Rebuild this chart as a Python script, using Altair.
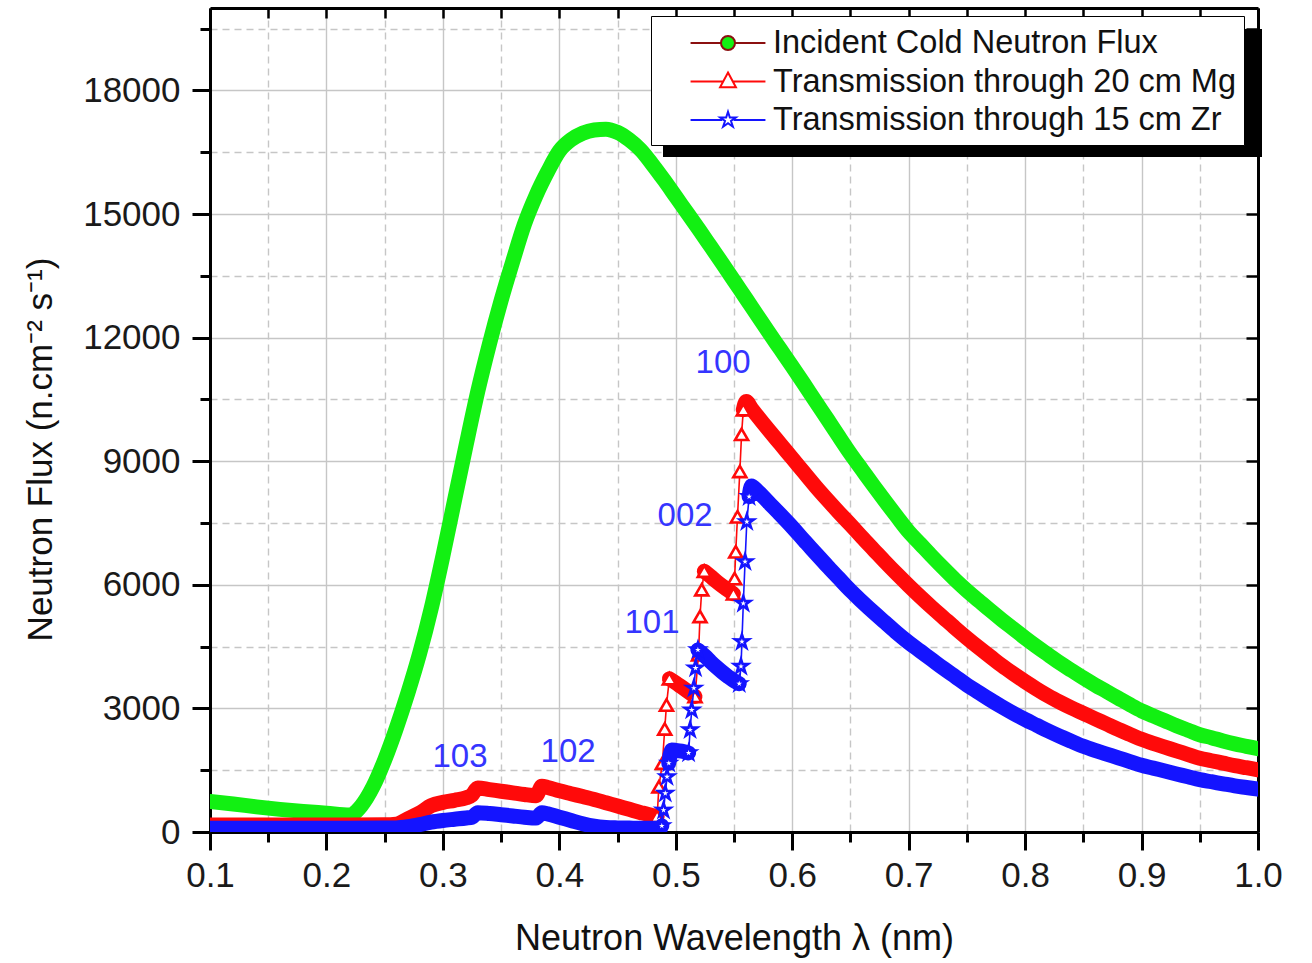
import altair as alt
import pandas as pd

FONT = "Liberation Sans"

# ---------------- data ----------------
green_x = [0.10, 0.12, 0.14, 0.16, 0.18, 0.20, 0.22, 0.23, 0.24, 0.25, 0.26, 0.27, 0.28, 0.29,
           0.30, 0.31, 0.32, 0.33, 0.34, 0.35, 0.36, 0.37, 0.38, 0.39, 0.40, 0.41, 0.42, 0.43,
           0.44, 0.45, 0.46, 0.47, 0.48, 0.49, 0.50, 0.51, 0.52, 0.53, 0.54, 0.55, 0.56, 0.57,
           0.58, 0.59, 0.60, 0.61, 0.62, 0.63, 0.64, 0.65, 0.66, 0.67, 0.68, 0.69, 0.70, 0.71,
           0.72, 0.73, 0.74, 0.75, 0.76, 0.77, 0.78, 0.79, 0.80, 0.81, 0.82, 0.83, 0.84, 0.85,
           0.86, 0.87, 0.88, 0.89, 0.90, 0.91, 0.92, 0.93, 0.94, 0.95, 0.96, 0.97, 0.98, 0.99, 1.00]
green_y = [740, 680, 610, 550, 500, 455, 410, 640, 1100, 1750, 2520, 3380, 4330, 5430,
           6700, 8050, 9400, 10700, 11850, 12900, 13850, 14750, 15450, 16030, 16530, 16800, 16960, 17040,
           17060, 16980, 16800, 16550, 16200, 15820, 15420, 15020, 14620, 14210, 13800, 13380, 12960, 12540,
           12120, 11710, 11300, 10880, 10450, 10030, 9600, 9180, 8790, 8400, 8020, 7650, 7290, 6990,
           6690, 6400, 6120, 5860, 5620, 5380, 5150, 4930, 4710, 4500, 4300, 4100, 3920, 3740,
           3570, 3410, 3250, 3090, 2940, 2820, 2700, 2580, 2470, 2360, 2290, 2210, 2140, 2080, 2020]

red_x = [0.10, 0.15, 0.20, 0.25, 0.26, 0.27, 0.28, 0.29, 0.30, 0.31, 0.32, 0.325, 0.33, 0.34,
         0.35, 0.36, 0.37, 0.38, 0.385, 0.39, 0.40, 0.41, 0.42, 0.43, 0.44, 0.45, 0.46, 0.47,
         0.48, 0.484, 0.4855, 0.4885, 0.4905, 0.492, 0.4945, 0.50, 0.505, 0.51, 0.5165, 0.5195,
         0.5208, 0.5223, 0.5245, 0.53, 0.535, 0.54, 0.545, 0.5495, 0.5505, 0.5515, 0.553, 0.555,
         0.5565, 0.558, 0.5605, 0.565, 0.57, 0.58, 0.59, 0.60, 0.61, 0.62, 0.63, 0.64, 0.65,
         0.66, 0.67, 0.68, 0.69, 0.70, 0.71, 0.72, 0.73, 0.74, 0.75, 0.76, 0.77, 0.78, 0.79,
         0.80, 0.81, 0.82, 0.83, 0.84, 0.85, 0.86, 0.87, 0.88, 0.89, 0.90, 0.91, 0.92, 0.93,
         0.94, 0.95, 0.96, 0.97, 0.98, 0.99, 1.00]
red_y = [170, 170, 170, 175, 190, 320, 460, 640, 720, 770, 830, 900, 1070, 1030,
         990, 950, 910, 880, 1110, 1080, 1000, 930, 860, 790, 710, 630, 550, 470,
         400, 380, 1100, 1670, 2500, 3080, 3720, 3620, 3520, 3420, 3290, 4300,
         5230, 5880, 6330, 6200, 6080, 5970, 5870, 5780, 6150, 6800, 7650, 8750,
         9650, 10250, 10450, 10280, 10100, 9750, 9410, 9070, 8730, 8390, 8070, 7760, 7460,
         7150, 6850, 6550, 6260, 5980, 5710, 5450, 5200, 4950, 4710, 4480, 4260, 4040, 3840,
         3650, 3470, 3300, 3150, 3010, 2880, 2750, 2620, 2490, 2370, 2250, 2150, 2060, 1970,
         1880, 1790, 1730, 1670, 1610, 1560, 1510]

blue_x = [0.10, 0.15, 0.20, 0.25, 0.26, 0.27, 0.28, 0.29, 0.30, 0.31, 0.32, 0.325, 0.33, 0.34,
          0.35, 0.36, 0.37, 0.38, 0.385, 0.39, 0.40, 0.41, 0.42, 0.43, 0.44, 0.45, 0.46, 0.47,
          0.48, 0.486, 0.488, 0.4895, 0.491, 0.4925, 0.494, 0.4965, 0.50, 0.505, 0.511, 0.5123,
          0.5137, 0.5155, 0.517, 0.519, 0.525, 0.53, 0.535, 0.54, 0.545, 0.5505, 0.5545, 0.556,
          0.5568, 0.558, 0.5595, 0.561, 0.563, 0.565, 0.57, 0.58, 0.59, 0.60, 0.61, 0.62, 0.63,
          0.64, 0.65, 0.66, 0.67, 0.68, 0.69, 0.70, 0.71, 0.72, 0.73, 0.74, 0.75, 0.76, 0.77,
          0.78, 0.79, 0.80, 0.81, 0.82, 0.83, 0.84, 0.85, 0.86, 0.87, 0.88, 0.89, 0.90, 0.91,
          0.92, 0.93, 0.94, 0.95, 0.96, 0.97, 0.98, 0.99, 1.00]
blue_y = [90, 90, 90, 95, 100, 130, 180, 240, 280, 310, 340, 360, 470, 450,
          420, 390, 360, 340, 470, 440, 360, 280, 200, 140, 110, 100, 95, 90,
          90, 100, 150, 530, 940, 1340, 1670, 1990, 1980, 1960, 1920, 2480,
          2960, 3490, 3980, 4420, 4270, 4130, 4000, 3880, 3770, 3660, 3600, 4020,
          4620, 5550, 6560, 7530, 8140, 8400, 8280, 7990, 7700, 7400, 7080, 6770, 6460,
          6160, 5860, 5590, 5330, 5080, 4830, 4600, 4390, 4180, 3970, 3770, 3570, 3390, 3210,
          3040, 2880, 2730, 2590, 2450, 2320, 2200, 2080, 1980, 1890, 1800, 1710, 1620, 1550,
          1480, 1410, 1340, 1270, 1220, 1170, 1120, 1080, 1040]

ann_text = ["103", "102", "101", "002", "100"]
ann_x = [0.3147, 0.4075, 0.4796, 0.508, 0.5406]
ann_y = [1820, 1940, 5080, 7680, 11390]

series_names = ["Incident Cold Neutron Flux",
                "Transmission through 20 cm Mg",
                "Transmission through 15 cm Zr"]

x_major = [0.1, 0.2, 0.3, 0.4, 0.5, 0.6, 0.7, 0.8, 0.9, 1.0]
x_minor = [0.15, 0.25, 0.35, 0.45, 0.55, 0.65, 0.75, 0.85, 0.95]
y_major = [0, 3000, 6000, 9000, 12000, 15000, 18000]
y_minor = [1500, 4500, 7500, 10500, 13500, 16500, 19500]

assert len(green_x) == len(green_y)
assert len(red_x) == len(red_y)
assert len(blue_x) == len(blue_y)

# ---------------- styling ----------------
GREEN = "#12f012"
RED = "#ff0a0a"
BLUE = "#1414ff"
ANN = "#3535ff"
GRID = "#c6c6c6"
W, H = 1048, 824

STAR = ("M0,-1L0.2235,-0.3074L0.951,-0.309L0.3614,0.1174L0.588,0.809L0,0.38"
        "L-0.588,0.809L-0.3614,0.1174L-0.951,-0.309L-0.2235,-0.3074Z")

LEG_CIRCLE = ("M-2.08,0L-0.39,0M0.39,0L2.08,0"
              "M0.39,0A0.39,0.39,0,1,1,-0.39,0A0.39,0.39,0,1,1,0.39,0Z")
LEG_TRI = "M-2.08,0L-0.27,0M0.27,0L2.08,0M0,-0.5L0.44,0.32L-0.44,0.32Z"
s = 0.46
LEG_STAR = "M-2.08,0L-0.33,0M0.33,0L2.08,0M" + "L".join(
    f"{float(a)*s:.4f},{float(b)*s:.4f}" for a, b in
    (p.split(",") for p in STAR[1:-1].split("L"))) + "Z"


def frame(xs, ys):
    n = len(xs)
    seg = [0] * n
    edge = [False] * n
    for i in range(1, n):
        slope = abs(ys[i] - ys[i - 1]) / (xs[i] - xs[i - 1])
        steep = slope > 150000
        seg[i] = seg[i - 1] + (1 if steep else 0)
        if steep:
            edge[i] = True
            edge[i - 1] = True
    df = pd.DataFrame({"x": xs, "y": ys, "seg": seg, "edge": edge, "order": list(range(n))})
    counts = df.groupby("seg")["x"].transform("count")
    df["band"] = counts >= 2
    return df


g_df = pd.DataFrame({"x": green_x, "y": green_y, "order": list(range(len(green_x)))})
r_df = frame(red_x, red_y)
b_df = frame(blue_x, blue_y)
ann_df = pd.DataFrame({"t": ann_text, "x": ann_x, "y": ann_y})
leg_df = pd.DataFrame({"series": series_names})

xsc = alt.Scale(domain=[0.1, 1.0], nice=False, zero=False)
ysc = alt.Scale(domain=[0, 20000], nice=False, zero=False)


def X(axis=None):
    return alt.X("x:Q", scale=xsc, axis=axis)


def Y(axis=None):
    return alt.Y("y:Q", scale=ysc, axis=axis)


# ---------------- axes-only layers ----------------
minor_layer = alt.Chart(g_df).mark_point(opacity=0).encode(
    x=X(alt.Axis(orient="bottom", values=x_minor, labels=False, title=None, grid=True,
                 gridDash=[7, 5], gridColor=GRID, gridWidth=1.4, ticks=True, tickSize=10,
                 tickWidth=3, tickColor="black", domain=False)),
    y=Y(alt.Axis(orient="left", values=y_minor, labels=False, title=None, grid=True,
                 gridDash=[7, 5], gridColor=GRID, gridWidth=1.4, ticks=True, tickSize=10,
                 tickWidth=3, tickColor="black", domain=False)),
)

major_layer = alt.Chart(g_df).mark_point(opacity=0).encode(
    x=X(alt.Axis(orient="bottom", values=x_major, format=".1f", grid=True, gridColor=GRID,
                 gridWidth=1.4, tickSize=18, tickWidth=3, tickColor="black", domain=True,
                 domainColor="black", domainWidth=3, labelFont=FONT, labelFontSize=35,
                 labelColor="#1a1a1a", labelPadding=8, labelFlush=False,
                 title="Neutron Wavelength λ (nm)", titleFont=FONT, titleFontSize=36,
                 titleFontWeight="normal", titleColor="#111111", titlePadding=28)),
    y=Y(alt.Axis(orient="left", values=y_major, format="d", grid=True, gridColor=GRID,
                 gridWidth=1.4, tickSize=18, tickWidth=3, tickColor="black", domain=True,
                 domainColor="black", domainWidth=3, labelFont=FONT, labelFontSize=35,
                 labelColor="#1a1a1a", labelPadding=12, labelFlush=False,
                 title="Neutron Flux (n.cm⁻² s⁻¹)", titleFont=FONT, titleFontSize=35,
                 titleFontWeight="normal", titleColor="#111111", titlePadding=24,
                 titleY=441)),
)

frame_layer = alt.Chart(g_df).mark_point(opacity=0).encode(
    x=X(alt.Axis(orient="bottom", offset=-H, values=sorted(x_major + x_minor), labels=False,
                 title=None, grid=False, tickSize=10, tickWidth=2.5, tickColor="black",
                 domain=True, domainColor="black", domainWidth=3)),
    y=Y(alt.Axis(orient="left", offset=-W, values=sorted(y_major + y_minor), labels=False,
                 title=None, grid=False, tickSize=12, tickWidth=2.5, tickColor="black",
                 domain=True, domainColor="black", domainWidth=3)),
)

# ---------------- data layers ----------------
green_band = alt.Chart(g_df).mark_line(
    color=GREEN, strokeWidth=15, strokeCap="round", strokeJoin="round",
    interpolate="monotone", clip=True
).encode(x=X(), y=Y(), order="order:Q")


def series_layers(df, color, shape, size):
    thin = alt.Chart(df).mark_line(color=color, strokeWidth=1.6, clip=True).encode(
        x=X(), y=Y(), order="order:Q")
    band = alt.Chart(df).transform_filter("datum.band").mark_line(
        color=color, strokeWidth=15, strokeCap="round", strokeJoin="round",
        interpolate="monotone", clip=True
    ).encode(x=X(), y=Y(), detail="seg:N", order="order:Q")
    pts = alt.Chart(df).transform_filter("datum.edge").mark_point(
        shape=shape, size=size, filled=False, fill="white", fillOpacity=1, stroke=color,
        strokeWidth=2.6, opacity=1, clip=True
    ).encode(x=X(), y=Y())
    return [thin, band, pts]


red_layers = series_layers(r_df, RED, "triangle-up", 170)
blue_layers = series_layers(b_df, BLUE, STAR, 210)

ann_layer = alt.Chart(ann_df).mark_text(
    font=FONT, fontSize=33, color=ANN, align="center", baseline="middle"
).encode(x=X(), y=Y(), text="t:N")

# legend shadow (decoration behind the legend box)
shadow = alt.Chart(leg_df).mark_rect(color="black").encode(
    x=alt.value(453), x2=alt.value(1052), y=alt.value(21), y2=alt.value(149))

leg = alt.Legend(orient="none", legendX=441, legendY=8, title=None, labelFont=FONT,
                 labelFontSize=32.5, labelColor="#111111", labelLimit=0, labelOffset=26,
                 symbolSize=1296, symbolStrokeWidth=2, symbolOffset=50, rowPadding=2.5,
                 padding=8, fillColor="white", strokeColor="black")

legend_layer = alt.Chart(leg_df).transform_filter("datum.series == 'none'").mark_point(
    filled=True, opacity=1
).encode(
    shape=alt.Shape("series:N", scale=alt.Scale(domain=series_names,
                                                range=[LEG_CIRCLE, LEG_TRI, LEG_STAR]), legend=leg),
    stroke=alt.Stroke("series:N", scale=alt.Scale(domain=series_names,
                                                  range=["#8b1010", RED, BLUE]), legend=leg),
    fill=alt.Fill("series:N", scale=alt.Scale(domain=series_names,
                                              range=[GREEN, "#ffffff", "#ffffff"]), legend=leg),
)

chart = alt.layer(
    minor_layer, major_layer, frame_layer,
    green_band, *red_layers, *blue_layers,
    ann_layer, shadow, legend_layer,
).resolve_axis(x="independent", y="independent").properties(
    width=W, height=H,
    padding={"left": 210, "top": 8, "right": 54, "bottom": 131},
    autosize=alt.AutoSizeParams(type="none"),
).configure_view(stroke=None).configure(background="white")

chart.save("out.html", embed_options={"renderer": "svg", "actions": False})
